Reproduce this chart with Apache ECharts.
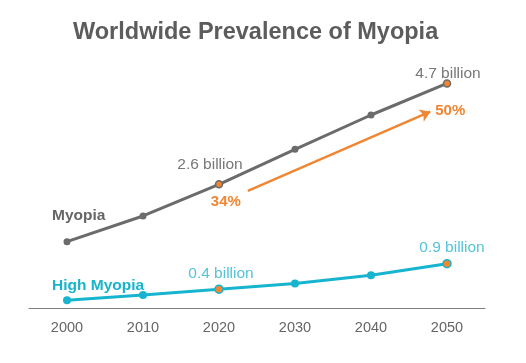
<!DOCTYPE html>
<html><head><meta charset="utf-8">
<script src="https://cdn.jsdelivr.net/npm/echarts@6/dist/echarts.min.js"></script>
<style>html,body{margin:0;padding:0;background:#fff}#c{width:526px;height:363px}</style>
</head><body><div id="c"></div>
<script>
const years = ['2000','2010','2020','2030','2040','2050'];
const myopia = [1.406, 1.950, 2.620, 3.361, 4.089, 4.758];
const highMyopia = [0.163, 0.277, 0.399, 0.517, 0.696, 0.938];
const myopiaLabels = ['', '', '2.6 billion', '', '', '4.7 billion'];
const highLabels = ['', '', '0.4 billion', '', '', '0.9 billion'];
const highlightIdx = [2, 5];
const arrowPts = [[2.38, 2.48], [4.78, 4.16]];
const arrowLabels = ['34%', '50%'];

const FONT = 'Arial, "Liberation Sans", sans-serif';
const GRAY = '#6b6b6b', ORANGE = '#ef8633', CYAN = '#17b4cf';

function buildData(vals, labels, color, nameLabel, nameColor, labelColor, dists, offsets, nameOffset) {
  return vals.map((v, i) => {
    const hl = highlightIdx.includes(i);
    const d = { value: v, itemStyle: { color: hl ? ORANGE : color, borderColor: color, borderWidth: hl ? 1.5 : 0 } };
    if (labels[i]) {
      d.label = { show: true, formatter: labels[i], position: 'top', distance: dists[i], offset: offsets[i] || [0,0],
        color: labelColor, fontSize: 15.5, fontFamily: FONT };
    }
    if (i === 0) {
      d.label = { show: true, formatter: nameLabel, position: 'top', align: 'left', distance: 0,
        offset: nameOffset, color: nameColor, fontSize: 15.5, fontWeight: 'bold', fontFamily: FONT };
    }
    return d;
  });
}

const chart = echarts.init(document.getElementById('c'));
chart.setOption({
  animation: false,
  title: { text: 'Worldwide Prevalence of Myopia', left: 68, top: 16,
    textStyle: { color: '#5c5c5c', fontSize: 23.5, fontWeight: 'bold', fontFamily: FONT } },
  grid: { left: 29, right: 41, top: 72, bottom: 55 },
  xAxis: [
    { type: 'category', data: years, boundaryGap: true,
      axisLine: { lineStyle: { color: '#808080', width: 1 } }, axisTick: { show: false },
      axisLabel: { color: '#666', fontSize: 14.5, fontFamily: FONT, margin: 12 } },
    { type: 'value', min: -0.5, max: 5.5, show: false }
  ],
  yAxis: { type: 'value', min: 0, max: 5, show: false, splitLine: { show: false } },
  series: [
    { name: 'Myopia', type: 'line',
      data: buildData(myopia, myopiaLabels, GRAY, 'Myopia', '#666', '#777', {2: 7, 5: -3}, {2: [-9, 0], 5: [1, 0]}, [-15, -14]),
      symbol: 'circle', symbolSize: 7, lineStyle: { color: GRAY, width: 3 }, z: 3 },
    { name: 'High Myopia', type: 'line',
      data: buildData(highMyopia, highLabels, CYAN, 'High Myopia', '#1ab3cc', '#55c3d8', {2: 3, 5: 3}, {2: [2, 0], 5: [5, 0]}, [-15, -3]),
      symbol: 'circle', symbolSize: 8, lineStyle: { color: CYAN, width: 3 }, z: 3 },
    { name: 'arrow', type: 'line', xAxisIndex: 1, data: arrowPts.map((p, i) => ({ value: p,
        label: { show: true, formatter: arrowLabels[i], position: 'inside', offset: i === 0 ? [-22, 11] : [20, -1],
          color: ORANGE, fontSize: 15, fontWeight: 'bold', fontFamily: FONT } })),
      symbol: 'circle', symbolSize: 2, showSymbol: true,
      itemStyle: { color: 'rgba(255,255,255,0)', borderWidth: 0 }, lineStyle: { width: 0, color: 'rgba(255,255,255,0)' },
      markLine: { silent: true, symbol: ['none', 'arrow'], symbolSize: 10,
        lineStyle: { color: ORANGE, width: 2.5, type: 'solid', opacity: 1 }, label: { show: false },
        data: [[{ coord: arrowPts[0] }, { coord: arrowPts[1] }]] } }
  ]
});
</script></body></html>
